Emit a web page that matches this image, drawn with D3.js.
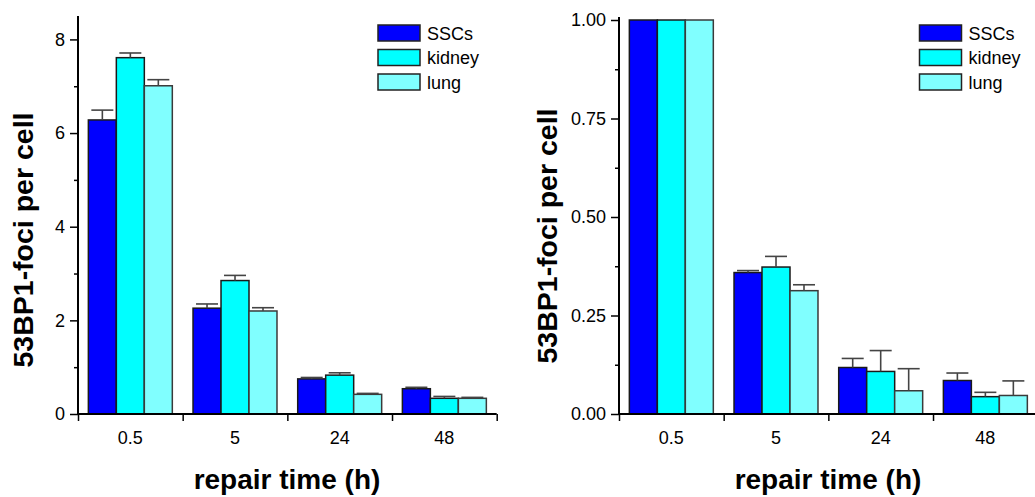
<!DOCTYPE html>
<html>
<head>
<meta charset="utf-8">
<script src="https://cdn.jsdelivr.net/npm/d3@7"></script>
<style>
  html, body { margin: 0; padding: 0; background: #fff; }
  svg { display: block; }
  text { font-family: "Liberation Sans", Arial, Helvetica, sans-serif; fill: #000; }
</style>
</head>
<body>
<svg id="chart" width="1035" height="497"></svg>
<script>
// ---- data ----
const categories = ["0.5", "5", "24", "48"];
const seriesNames = ["SSCs", "kidney", "lung"];
const seriesColors = ["#0000ff", "#00ffff", "#80ffff"];

// left panel: absolute foci per cell
const absSSCs      = [6.28, 2.26, 0.75, 0.54];
const absSSCsErr   = [0.21, 0.09, 0.03, 0.03];
const absKidney    = [7.61, 2.85, 0.83, 0.335];
const absKidneyErr = [0.10, 0.11, 0.05, 0.04];
const absLung      = [7.01, 2.20, 0.42, 0.335];
const absLungErr   = [0.13, 0.07, 0.02, 0.02];
const absTicks      = [0, 2, 4, 6, 8];
const absMinorTicks = [1, 3, 5, 7];

// right panel: normalised to 0.5 h
const relSSCs      = [1.0, 0.359, 0.118, 0.085];
const relSSCsErr   = [0, 0.005, 0.023, 0.019];
const relKidney    = [1.0, 0.373, 0.108, 0.044];
const relKidneyErr = [0, 0.027, 0.053, 0.011];
const relLung      = [1.0, 0.313, 0.059, 0.047];
const relLungErr   = [0, 0.015, 0.056, 0.037];
const relTicks      = [0, 0.25, 0.5, 0.75, 1.0];
const relMinorTicks = [0.125, 0.375, 0.625, 0.875];

const yTitle = "53BP1-foci per cell";
const xTitle = "repair time (h)";

const svg = d3.select("#chart");

function panel(opts) {
  const g = svg.append("g");
  const x0 = d3.scaleBand().domain(categories).range([opts.left, opts.left + 418.7]).paddingInner(0).paddingOuter(0);
  const x1 = d3.scaleBand().domain(seriesNames).range([0, x0.bandwidth()]).paddingInner(0).paddingOuter(0.37);
  const y = d3.scaleLinear().domain(opts.yDomain).range([414, opts.yTopPx]);

  const vals = [opts.s0, opts.s1, opts.s2];
  const errs = [opts.e0, opts.e1, opts.e2];

  // bars
  seriesNames.forEach((s, si) => {
    const grp = g.append("g");
    grp.selectAll("rect").data(categories).join("rect")
      .attr("x", (c) => x0(c) + x1(s))
      .attr("y", (c, i) => y(vals[si][i]))
      .attr("width", x1.bandwidth())
      .attr("height", (c, i) => y(0) - y(vals[si][i]))
      .attr("fill", seriesColors[si])
      .attr("stroke", si === 2 ? "#3a3a3a" : "#1a1a1a")
      .attr("stroke-width", 1.5);
    // error bars (upper only)
    const eb = g.append("g").attr("stroke", "#444").attr("stroke-width", 1.6);
    categories.forEach((c, i) => {
      if (errs[si][i] <= 0) return;
      const cx = x0(c) + x1(s) + x1.bandwidth() / 2;
      const yt = y(vals[si][i]);
      const ye = y(vals[si][i] + errs[si][i]);
      eb.append("line").attr("x1", cx).attr("x2", cx).attr("y1", yt).attr("y2", ye);
      eb.append("line").attr("x1", cx - 11).attr("x2", cx + 11).attr("y1", ye).attr("y2", ye);
    });
  });

  // y axis
  const yAxis = d3.axisLeft(y).tickValues(opts.ticks).tickSize(8).tickPadding(5)
    .tickFormat(opts.fmt);
  const ya = g.append("g").attr("transform", `translate(${opts.left},0)`).call(yAxis);
  ya.select(".domain").remove();
  ya.selectAll(".tick line").attr("stroke", "#000").attr("stroke-width", 1.5);
  ya.selectAll(".tick text").attr("font-size", 18).attr("fill", "#000")
    .style("font-family", "'Liberation Sans', Arial, sans-serif");
  const yMinor = d3.axisLeft(y).tickValues(opts.minor).tickSize(4).tickFormat("");
  const ym = g.append("g").attr("transform", `translate(${opts.left},0)`).call(yMinor);
  ym.select(".domain").remove();
  ym.selectAll(".tick line").attr("stroke", "#000").attr("stroke-width", 1.5);
  g.append("line").attr("x1", opts.left).attr("x2", opts.left)
    .attr("y1", opts.axisTop).attr("y2", 415).attr("stroke", "#000").attr("stroke-width", 2);

  // x axis (ticks at band boundaries)
  const xb = d3.scaleLinear().domain([0, categories.length]).range(x0.range());
  const xAxis = d3.axisBottom(xb).tickValues(d3.range(categories.length + 1)).tickSize(7).tickFormat("");
  const xa = g.append("g").attr("transform", "translate(0,414)").call(xAxis);
  xa.select(".domain").remove();
  xa.selectAll(".tick line").attr("stroke", "#000").attr("stroke-width", 1.5);
  g.append("line").attr("x1", opts.left - 1).attr("x2", opts.left + 418.7)
    .attr("y1", 414).attr("y2", 414).attr("stroke", "#000").attr("stroke-width", 2);
  g.selectAll(".xlab").data(categories).join("text")
    .attr("x", (c) => x0(c) + x0.bandwidth() / 2)
    .attr("y", 444)
    .attr("text-anchor", "middle")
    .attr("font-size", 18)
    .text((c) => c);

  // titles
  g.append("text").attr("x", opts.left + 209).attr("y", 489)
    .attr("text-anchor", "middle").attr("font-size", 28).attr("font-weight", "bold")
    .text(xTitle);
  g.append("text")
    .attr("transform", `translate(${opts.yTitleX},${opts.yTitleY}) rotate(-90)`)
    .attr("text-anchor", "middle").attr("font-size", 28.5).attr("font-weight", "bold")
    .text(yTitle);

  // legend
  const lg = g.append("g").attr("transform", `translate(${opts.legendX},25)`);
  seriesNames.forEach((s, si) => {
    lg.append("rect").attr("x", 0).attr("y", si * 24.5).attr("width", 42).attr("height", 16)
      .attr("fill", seriesColors[si]).attr("stroke", "#222").attr("stroke-width", 1.5);
    lg.append("text").attr("x", 49).attr("y", si * 24.5 + 14.5).attr("font-size", 18).text(s);
  });
}

panel({
  left: 78, yDomain: [0, 8.5], yTopPx: 16, axisTop: 16,
  s0: absSSCs, s1: absKidney, s2: absLung,
  e0: absSSCsErr, e1: absKidneyErr, e2: absLungErr,
  ticks: absTicks, minor: absMinorTicks, fmt: d3.format("d"),
  yTitleX: 33, yTitleY: 240, legendX: 378
});

panel({
  left: 619, yDomain: [0, 1.0], yTopPx: 20, axisTop: 17,
  s0: relSSCs, s1: relKidney, s2: relLung,
  e0: relSSCsErr, e1: relKidneyErr, e2: relLungErr,
  ticks: relTicks, minor: relMinorTicks, fmt: d3.format(".2f"),
  yTitleX: 557, yTitleY: 236, legendX: 919.5
});
</script>
</body>
</html>
